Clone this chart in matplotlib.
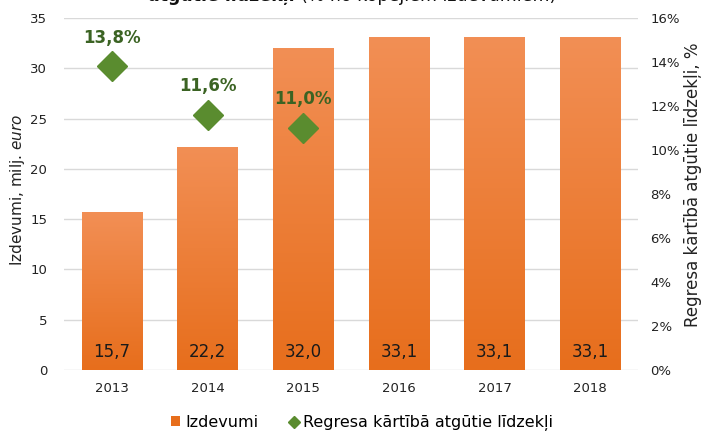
import numpy as np
import matplotlib.pyplot as plt
import matplotlib.colors as mcolors
from matplotlib.lines import Line2D
from matplotlib.patches import Patch

# dati
years = ['2013', '2014', '2015', '2016', '2017', '2018']
izdevumi = [15.7, 22.2, 32.0, 33.1, 33.1, 33.1]
regress_years = ['2013', '2014', '2015']
regress_pct = [13.8, 11.6, 11.0]

bar_top = '#F28F55'
bar_bot = '#E76E1C'
green = '#5A8C2F'
label_green = '#3B6323'
txt = '#222222'

plt.rcParams['font.family'] = ['DejaVu Sans']

fig = plt.figure(figsize=(7.01, 4.34), dpi=100)
ax = fig.add_axes([64/701, 1-370/434, 574/701, 352/434])
ax2 = ax.twinx()

x = np.arange(len(years))
bars = ax.bar(x, izdevumi, width=0.63, color=bar_bot, zorder=2)

# gradients uz stabiem
cmap = mcolors.LinearSegmentedColormap.from_list('g', [bar_bot, bar_top])
grad = np.linspace(0, 1, 256).reshape(-1, 1)
for b in bars:
    x0, y0 = b.get_x(), b.get_y()
    im = ax.imshow(grad, cmap=cmap, origin='lower', aspect='auto',
                   extent=[x0, x0 + b.get_width(), y0, y0 + b.get_height()], zorder=2)
    im.set_clip_path(b)

for xi, v in zip(x, izdevumi):
    ax.text(xi, 1.8, f'{v:.1f}'.replace('.', ','), ha='center', va='center',
            fontsize=12, color='#1a1a1a', zorder=3)

ax.set_xlim(-0.5, len(years) - 0.5)
ax.set_ylim(0, 35)
ax.set_yticks(np.arange(0, 36, 5))
ax.set_xticks(x)
ax.set_xticklabels(years)
ax.yaxis.grid(True, color='#D9D9D9', linewidth=1, zorder=0)
ax.set_axisbelow(True)
for s in ax.spines.values():
    s.set_visible(False)
ax.tick_params(axis='both', length=0, labelsize=9.5, colors=txt)
ax.tick_params(axis='y', pad=12)
ax.tick_params(axis='x', pad=9)

# regresa līdzekļi
rx = [years.index(y) for y in regress_years]
ax2.plot(rx, regress_pct, linestyle='none', marker='D', markersize=15,
         color=green, markeredgecolor=green, zorder=5)
for xi, v in zip(rx, regress_pct):
    ax2.text(xi, v + 1.3, f'{v:.1f}%'.replace('.', ','), ha='center', va='center',
             fontsize=12, fontweight='bold', color=label_green)
ax2.set_ylim(0, 16)
ax2.set_yticks(np.arange(0, 17, 2))
ax2.set_yticklabels([f'{t}%' for t in range(0, 17, 2)])
for s in ax2.spines.values():
    s.set_visible(False)
ax2.tick_params(axis='y', length=0, labelsize=9.5, colors=txt, pad=9)

# asu nosaukumi
fig.text(18/701, 1 - 190/434, r'Izdevumi, milj. $\it{euro}$', rotation=90,
         ha='center', va='center', fontsize=11, color=txt)
fig.text(693/701, 1 - 185/434, 'Regresa kārtībā atgūtie līdzekļi, %', rotation=90,
         ha='center', va='center', fontsize=12, color=txt)

# virsraksts (apgriezts augšā)
fig.text(295/701, 1 - 1/434, 'atgūtie līdzekļi', ha='right', va='baseline',
         fontsize=12.5, fontweight='bold', color='#111111')
fig.text(301/701, 1 - 1/434, '(% no kopējiem izdevumiem)', ha='left', va='baseline',
         fontsize=12.5, color='#111111')

handles = [Patch(facecolor=bar_bot, edgecolor='none'),
           Line2D([], [], linestyle='none', marker='D', markersize=6, color=green)]
fig.legend(handles, ['Izdevumi', 'Regresa kārtībā atgūtie līdzekļi'],
           loc='center', bbox_to_anchor=(362/701, 1 - 423/434), ncol=2, frameon=False,
           fontsize=11.5, handlelength=0.6, handleheight=0.6, handletextpad=0.3,
           columnspacing=1.9)

fig.savefig('out.png', dpi=100)
